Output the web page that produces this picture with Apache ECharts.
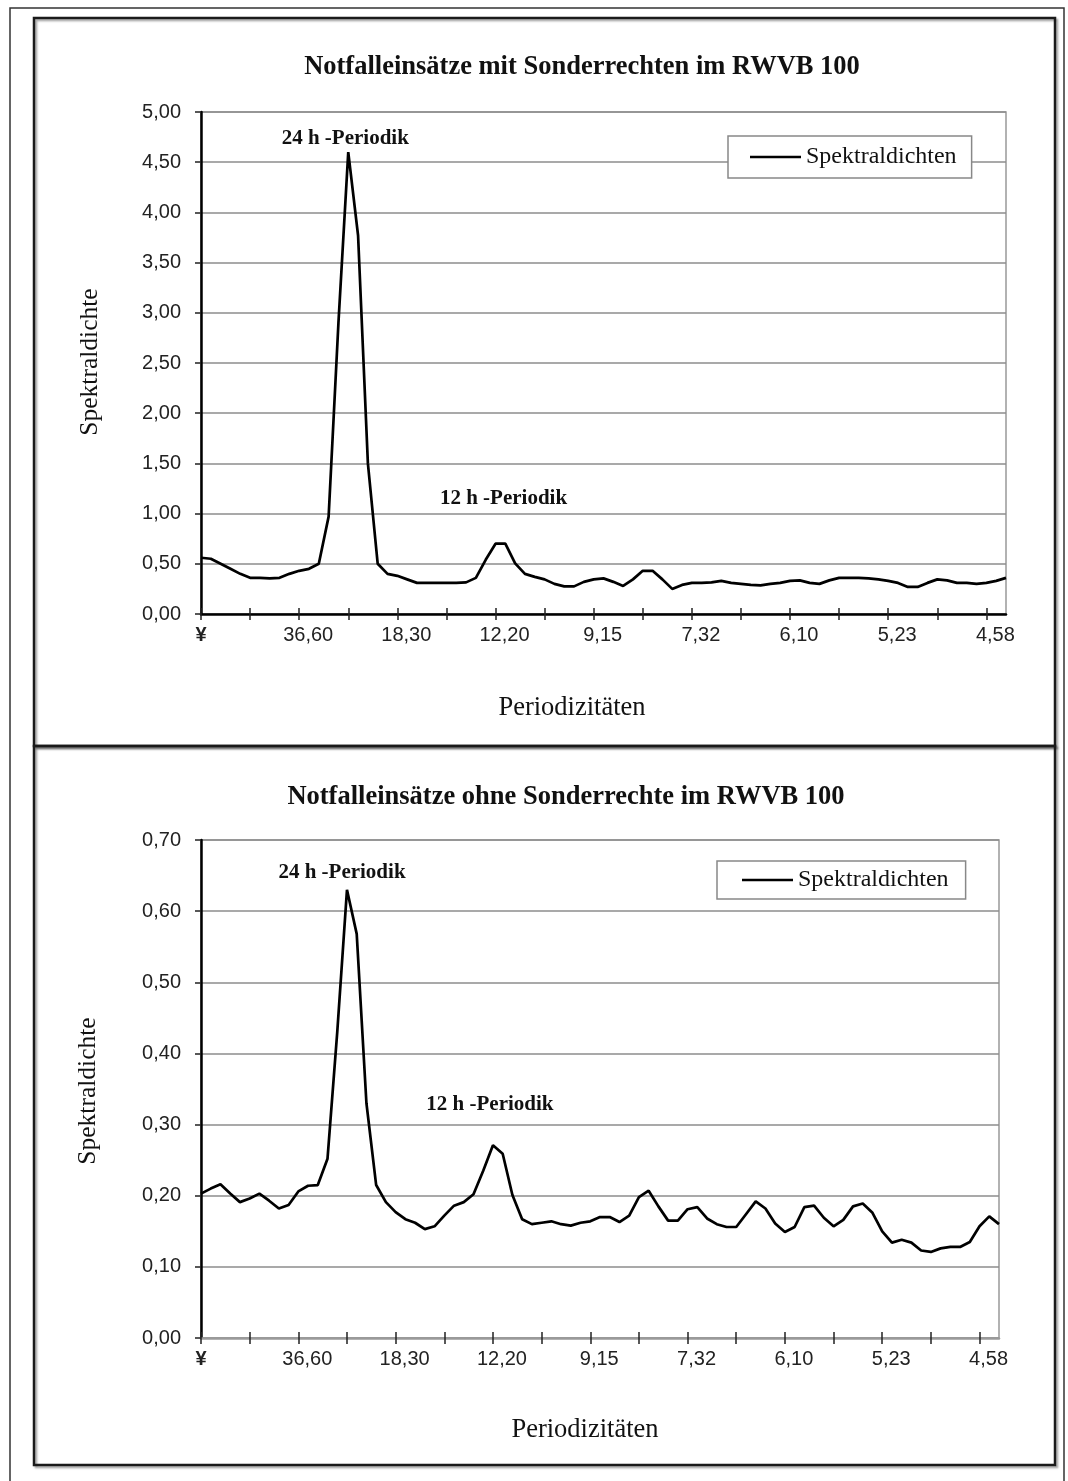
<!DOCTYPE html>
<html>
<head>
<meta charset="utf-8">
<script src="https://cdn.jsdelivr.net/npm/echarts@6/dist/echarts.min.js"></script>
<style>
    html, body { margin: 0; padding: 0; background: #fff; }
    #chart { width: 1068px; height: 1481px; }
</style>
</head>
<body>
<div id="chart"></div>
<script>
// tick labels of the period axis (every 10th spectral index)
const periodLabels = ['¥', '36,60', '18,30', '12,20', '9,15', '7,32', '6,10', '5,23', '4,58'];

// spectral densities, index 0..82
const mitSonderrechten = [
    0.56, 0.55, 0.50, 0.45, 0.40, 0.36, 0.36, 0.355, 0.36, 0.40,
    0.43, 0.45, 0.50, 0.97, 2.90, 4.60, 3.77, 1.50, 0.50, 0.40,
    0.38, 0.345, 0.31, 0.31, 0.31, 0.31, 0.31, 0.315, 0.36, 0.54,
    0.70, 0.70, 0.505, 0.40, 0.37, 0.345, 0.30, 0.275, 0.275, 0.32,
    0.345, 0.355, 0.32, 0.28, 0.345, 0.43, 0.43, 0.345, 0.25, 0.29,
    0.31, 0.31, 0.315, 0.33, 0.31, 0.30, 0.29, 0.285, 0.30, 0.31,
    0.33, 0.335, 0.31, 0.30, 0.335, 0.36, 0.36, 0.36, 0.355, 0.345,
    0.33, 0.31, 0.27, 0.27, 0.31, 0.345, 0.335, 0.31, 0.31, 0.30,
    0.31, 0.33, 0.36
];

const ohneSonderrechte = [
    0.203, 0.210, 0.216, 0.203, 0.191, 0.196, 0.203, 0.193, 0.182, 0.187,
    0.206, 0.214, 0.215, 0.252, 0.430, 0.630, 0.568, 0.330, 0.215, 0.191,
    0.177, 0.167, 0.162, 0.153, 0.157, 0.172, 0.186, 0.191, 0.202, 0.235,
    0.271, 0.259, 0.201, 0.167, 0.160, 0.162, 0.164, 0.160, 0.158, 0.162,
    0.164, 0.170, 0.170, 0.163, 0.172, 0.198, 0.207, 0.185, 0.165, 0.165,
    0.181, 0.184, 0.168, 0.160, 0.156, 0.156, 0.174, 0.192, 0.182, 0.161,
    0.149, 0.156, 0.184, 0.186, 0.169, 0.157, 0.166, 0.185, 0.189, 0.176,
    0.150, 0.134, 0.138, 0.134, 0.123, 0.121, 0.126, 0.128, 0.128, 0.135,
    0.157, 0.171, 0.160
];

const indices = mitSonderrechten.map((_, j) => String(j));

const serif = '"Liberation Serif", "Times New Roman", serif';
const sans = '"Liberation Sans", Arial, sans-serif';

const chart = echarts.init(document.getElementById('chart'), null, { renderer: 'canvas' });

function periodLabel(val, idx) {
    const k = idx / 10;
    if (idx === 0) return '{a|' + periodLabels[0] + '}';
    return '{b|' + periodLabels[k] + '}';
}

const tickLabelRich = {
    a: { fontFamily: sans, fontSize: 20, color: '#222', fontWeight: 'bold' },
    b: { fontFamily: sans, fontSize: 20, color: '#222', padding: [0, 0, 0, 18] }
};

function xAxes(gridIndex, lineColor) {
    return [
        {
            type: 'category', gridIndex, data: indices, boundaryGap: false, position: 'bottom',
            axisLine: { lineStyle: { color: lineColor, width: 2.5 } },
            axisTick: { interval: 4, length: 6, lineStyle: { color: '#222', width: 1.5 } },
            axisLabel: { interval: 9, margin: 11, formatter: periodLabel, rich: tickLabelRich },
            splitLine: { show: false }
        },
        {
            type: 'category', gridIndex, data: indices, boundaryGap: false, position: 'bottom',
            axisLine: { show: false },
            axisTick: { inside: true, interval: 4, length: 6, lineStyle: { color: '#222', width: 1.5 } },
            axisLabel: { show: false },
            splitLine: { show: false }
        }
    ];
}

function yAxis(gridIndex, max, interval) {
    return {
        type: 'value', gridIndex, min: 0, max, interval,
        axisLine: { show: true, lineStyle: { color: '#000', width: 2.5 } },
        axisTick: { show: true, length: 6, lineStyle: { color: '#222', width: 1.5 } },
        axisLabel: {
            margin: 20, fontFamily: sans, fontSize: 20, color: '#222',
            formatter: v => v.toFixed(2).replace('.', ',')
        },
        splitLine: { lineStyle: { color: '#8c8c8c', width: 1.5 } }
    };
}

const annot = { fontFamily: serif, fontWeight: 'bold', fontSize: 21, color: '#111' };

function peakLabel(j, v, text, offset) {
    return {
        coord: [j, v], symbolSize: 0,
        label: { show: true, position: 'top', formatter: text, offset, ...annot }
    };
}

function legend(left, top, padding) {
    return {
        data: ['Spektraldichten'], left, top, padding,
        icon: 'rect', itemWidth: 51, itemHeight: 2.5,
        backgroundColor: '#fff', borderColor: '#888', borderWidth: 1.5,
        textStyle: { fontFamily: serif, fontSize: 24, color: '#111' }
    };
}

function txt(x, y, text, font, rotation) {
    return {
        type: 'text', x, y, rotation: rotation || 0, z: 50,
        style: {
            text, font, fill: '#111',
            align: 'center', verticalAlign: 'middle',
            textAlign: 'center', textVerticalAlign: 'middle'
        }
    };
}

const panelStyle = {
    fill: 'none', stroke: '#1a1a1a', lineWidth: 2.5,
    shadowColor: 'rgba(0,0,0,0.35)', shadowOffsetX: 2, shadowOffsetY: 2, shadowBlur: 2
};

chart.setOption({
    animation: false,
    backgroundColor: '#fff',
    grid: [
        { left: 201, top: 112, width: 805, height: 502, show: true, borderColor: '#999', borderWidth: 1.5, backgroundColor: 'transparent' },
        { left: 201, top: 840, width: 798, height: 498, show: true, borderColor: '#999', borderWidth: 1.5, backgroundColor: 'transparent' }
    ],
    xAxis: [...xAxes(0, '#000'), ...xAxes(1, '#9a9a9a')],
    yAxis: [yAxis(0, 5, 0.5), yAxis(1, 0.7, 0.1)],
    legend: [
        legend(728, 136, [9, 15, 9, 22]),
        legend(717, 861, [7, 17, 7, 25])
    ],
    series: [
        {
            name: 'Spektraldichten', type: 'line', xAxisIndex: 0, yAxisIndex: 0,
            data: mitSonderrechten, symbol: 'none',
            lineStyle: { color: '#000', width: 2.7 }, itemStyle: { color: '#000' },
            markPoint: {
                symbol: 'circle', symbolSize: 0,
                data: [
                    peakLabel(15, mitSonderrechten[15], '24 h -Periodik', [-3, 2]),
                    peakLabel(30, mitSonderrechten[30], '12 h -Periodik', [8, -30])
                ]
            }
        },
        {
            name: 'Spektraldichten', type: 'line', xAxisIndex: 2, yAxisIndex: 1,
            data: ohneSonderrechte, symbol: 'none',
            lineStyle: { color: '#000', width: 2.7 }, itemStyle: { color: '#000' },
            markPoint: {
                symbol: 'circle', symbolSize: 0,
                data: [
                    peakLabel(15, ohneSonderrechte[15], '24 h -Periodik', [-5, -2]),
                    peakLabel(30, ohneSonderrechte[30], '12 h -Periodik', [-3, -25])
                ]
            }
        }
    ],
    graphic: [
        { type: 'rect', z: 40, shape: { x: 10, y: 8, width: 1054, height: 1500 }, style: { fill: 'none', stroke: '#333', lineWidth: 1.5 } },
        { type: 'rect', z: 40, shape: { x: 34, y: 18, width: 1021, height: 728 }, style: panelStyle },
        { type: 'rect', z: 40, shape: { x: 34, y: 746, width: 1021, height: 719 }, style: panelStyle },
        txt(582, 67, 'Notfalleinsätze mit Sonderrechten im RWVB 100', 'bold 26.5px ' + serif),
        txt(566, 797, 'Notfalleinsätze ohne Sonderrechte im RWVB 100', 'bold 26.5px ' + serif),
        txt(90, 362, 'Spektraldichte', '25.5px ' + serif, Math.PI / 2),
        txt(88, 1091, 'Spektraldichte', '25.5px ' + serif, Math.PI / 2),
        txt(572, 708, 'Periodizitäten', '26.5px ' + serif),
        txt(585, 1430, 'Periodizitäten', '26.5px ' + serif)
    ]
});

window.addEventListener('resize', () => chart.resize());
</script>
</body>
</html>
